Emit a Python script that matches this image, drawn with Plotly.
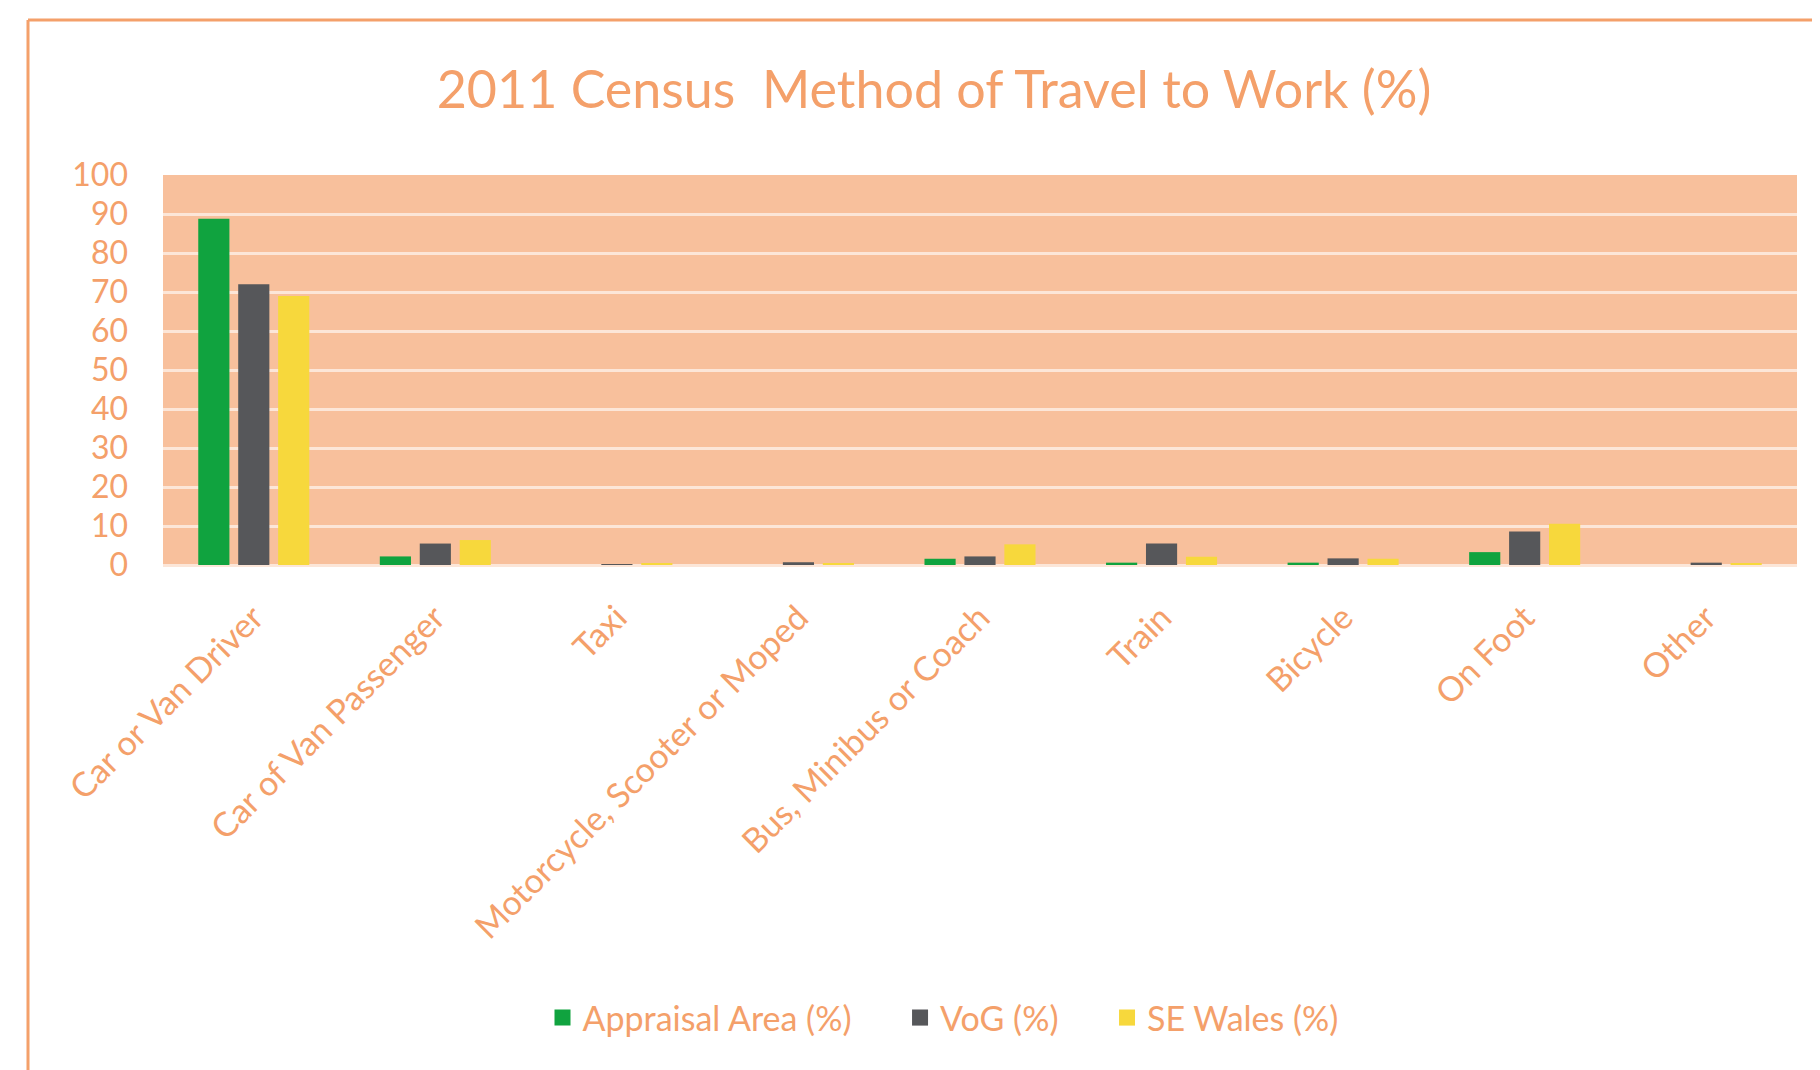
import plotly.graph_objects as go

categories = ["Car or Van Driver", "Car of Van Passenger", "Taxi",
              "Motorcycle, Scooter or Moped", "Bus, Minibus or Coach",
              "Train", "Bicycle", "On Foot", "Other"]
series_names = ["Appraisal Area (%)", "VoG (%)", "SE Wales (%)"]
appraisal = [88.8, 2.2, 0.0, 0.0, 1.6, 0.6, 0.6, 3.3, 0.0]
vog = [72.0, 5.5, 0.1, 0.7, 2.2, 5.5, 1.7, 8.6, 0.6]
se_wales = [69.0, 6.4, 0.4, 0.4, 5.3, 2.1, 1.6, 10.6, 0.4]
y_ticks = [0, 10, 20, 30, 40, 50, 60, 70, 80, 90, 100]

COLORS = ["#10A33F", "#56575A", "#F7D83C"]
TXT = "#F4A06A"
FONT = "Lato"

# page body has an 8px default margin; figure drawn in the remaining area
OFF = 8
W, H = 1820 - OFF, 1070 - OFF
L, R, T, B = 163 - OFF, 23, 175 - OFF, 505
pw, ph = W - L - R, H - T - B


def px_x(x):
    return (x - OFF - L) / pw


def px_y(y):
    return (H - B - (y - OFF)) / ph


fig = go.Figure()
for name, vals, col in zip(series_names, [appraisal, vog, se_wales], COLORS):
    fig.add_bar(name=name, x=categories, y=vals, marker_color=col,
                marker_line_width=0, showlegend=False)
# legend entries with larger square symbols
gap = "\u00a0" * 5
for i, (name, col) in enumerate(zip(series_names, COLORS)):
    fig.add_scatter(name=name + (gap if i < 2 else ""), x=[None], y=[None], mode="markers",
                    marker=dict(symbol="square", size=16, color=col))

fig.update_layout(
    width=W, height=H,
    margin=dict(l=L, r=R, t=T, b=B, autoexpand=False),
    paper_bgcolor="white",
    plot_bgcolor="#F8C09C",
    barmode="group", bargap=0.34, bargroupgap=0.22,
    font=dict(family=FONT, color=TXT, size=30),
    title=dict(text="2011 Census  Method of Travel to Work (%)", x=(934 - OFF) / W, xref="container",
               xanchor="center", y=1 - (90 - OFF) / H, yref="container", yanchor="middle",
               font=dict(size=52, color=TXT, family=FONT)),
    legend=dict(orientation="h", x=px_x(943), y=px_y(1018), xanchor="center", yanchor="middle",
                font=dict(size=34, color=TXT), itemwidth=30, bgcolor="rgba(0,0,0,0)"),
    xaxis=dict(tickangle=-45, showgrid=False, ticks="", tickfont=dict(size=34, color=TXT),
               showline=False, ticklabelstandoff=25),
    yaxis=dict(range=[0, 100], tickvals=y_ticks, showgrid=True, gridcolor="#FCE6D8", gridwidth=3,
               zeroline=True, zerolinecolor="#FCE6D8", zerolinewidth=3,
               tickfont=dict(size=32, color=TXT), ticklabelstandoff=34, showline=False),
    showlegend=True,
)

# chart border (left and top edges)
fig.add_shape(type="line", xref="paper", yref="paper",
              x0=px_x(28), x1=px_x(1830), y0=px_y(20), y1=px_y(20),
              line=dict(color="#F4A06A", width=3))
fig.add_shape(type="line", xref="paper", yref="paper",
              x0=px_x(28), x1=px_x(28), y0=px_y(20), y1=px_y(1080),
              line=dict(color="#F4A06A", width=3))

fig.write_html("out.html")
